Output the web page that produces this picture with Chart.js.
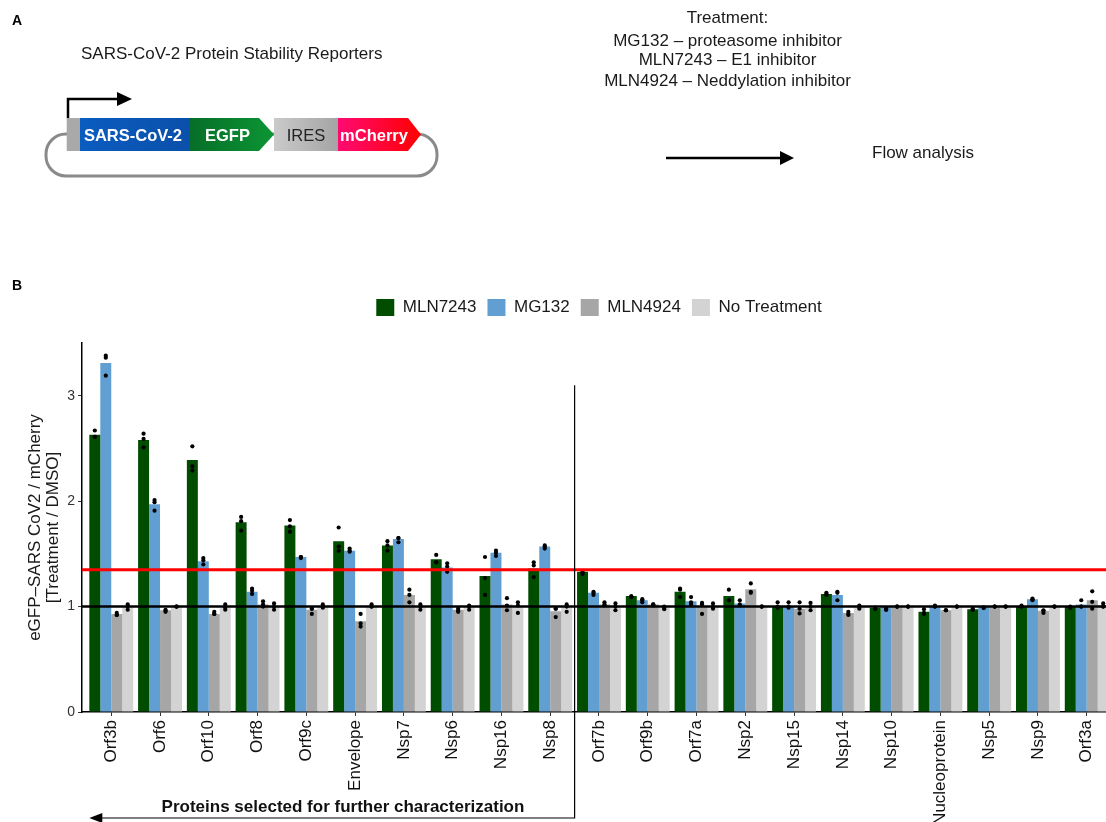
<!DOCTYPE html>
<html>
<head>
<meta charset="utf-8">
<script src="https://cdn.jsdelivr.net/npm/chart.js@4.4.1/dist/chart.umd.min.js"></script>
<style>
  body { margin: 0; width: 1106px; height: 822px; overflow: hidden; background: #fff; position: relative;
         font-family: "Liberation Sans", Arial, Helvetica, sans-serif; }
  #chart { position: absolute; left: 0; top: 0; }
  svg { position: absolute; left: 0; top: 0; pointer-events: none; }
  .caption { position: absolute; left: 343px; top: 797px; transform: translateX(-50%);
             font-size: 17px; font-weight: bold; line-height: 20px; color: #111; white-space: nowrap; }
</style>
</head>
<body>
<canvas id="chart" width="1120" height="822"></canvas>

<svg width="1106" height="300" font-family="Liberation Sans, Arial, Helvetica, sans-serif">
  <defs>
    <linearGradient id="gBlue" x1="0" x2="1"><stop offset="0" stop-color="#0a5cc0"/><stop offset="1" stop-color="#0b50aa"/></linearGradient>
    <linearGradient id="gGreen" x1="0" x2="1"><stop offset="0" stop-color="#066e28"/><stop offset="1" stop-color="#0c9534"/></linearGradient>
    <linearGradient id="gGrey" x1="0" x2="1"><stop offset="0" stop-color="#cacaca"/><stop offset="1" stop-color="#a4a4a4"/></linearGradient>
    <linearGradient id="gCherry" x1="0" x2="1"><stop offset="0" stop-color="#ff0a72"/><stop offset="1" stop-color="#ff0000"/></linearGradient>
  </defs>
  <text x="12" y="25" font-size="14" font-weight="bold" fill="#000">A</text>
  <text x="81" y="59" font-size="17" fill="#1a1a1a">SARS-CoV-2 Protein Stability Reporters</text>
  <rect x="46" y="134" width="391" height="42" rx="20" fill="none" stroke="#8a8a8a" stroke-width="3"/>
  <path d="M68 118 V99 H119" stroke="#000" stroke-width="2.5" fill="none"/>
  <polygon points="117,92 132,99 117,106" fill="#000"/>
  <rect x="66.7" y="118" width="13.3" height="33" fill="#a9a9a9"/>
  <rect x="80" y="118" width="109" height="33" fill="url(#gBlue)"/>
  <polygon points="189,118 259,118 274,134.5 259,151 189,151" fill="url(#gGreen)"/>
  <rect x="274" y="118" width="64" height="33" fill="url(#gGrey)"/>
  <polygon points="338,118 408,118 421,134.5 408,151 338,151" fill="url(#gCherry)"/>
  <text x="133" y="140.5" font-size="16.5" font-weight="bold" fill="#fff" text-anchor="middle">SARS-CoV-2</text>
  <text x="227.5" y="140.5" font-size="16.5" font-weight="bold" fill="#fff" text-anchor="middle">EGFP</text>
  <text x="306" y="140.5" font-size="16.5" fill="#222" text-anchor="middle">IRES</text>
  <text x="374" y="140.5" font-size="16.5" font-weight="bold" fill="#fff" text-anchor="middle">mCherry</text>

  <g font-size="17" fill="#1a1a1a" text-anchor="middle">
    <text x="727.5" y="23.3">Treatment:</text>
    <text x="727.5" y="45.7">MG132 – proteasome inhibitor</text>
    <text x="727.5" y="65">MLN7243 – E1 inhibitor</text>
    <text x="727.5" y="86">MLN4924 – Neddylation inhibitor</text>
  </g>
  <line x1="666" y1="158" x2="782" y2="158" stroke="#000" stroke-width="2.7"/>
  <polygon points="780,151 794,158 780,165" fill="#000"/>
  <text x="872" y="158.3" font-size="17" fill="#1a1a1a">Flow analysis</text>

  <text x="12" y="290" font-size="14" font-weight="bold" fill="#000">B</text>
</svg>
<div class="caption">Proteins selected for further characterization</div>

<script>
// categories (x axis, left to right)
const proteins = ['Orf3b', 'Orf6', 'Orf10', 'Orf8', 'Orf9c', 'Envelope', 'Nsp7', 'Nsp6', 'Nsp16', 'Nsp8',
  'Orf7b', 'Orf9b', 'Orf7a', 'Nsp2', 'Nsp15', 'Nsp14', 'Nsp10', 'Nucleoprotein', 'Nsp5', 'Nsp9', 'Orf3a'];

const treatments = ['MLN7243', 'MG132', 'MLN4924', 'No Treatment'];
const colours = ['#004d00', '#619fd3', '#a6a6a6', '#d3d3d3'];

// bar heights (mean ratio treatment / DMSO)
const mln7243 = [2.63, 2.58, 2.39, 1.80, 1.77, 1.62, 1.58, 1.45, 1.29, 1.36, 1.33, 1.10, 1.14, 1.10, 1.00, 1.12, 0.99, 0.95, 0.975, 1.00, 1.00];
const mg132 = [3.31, 1.97, 1.43, 1.14, 1.47, 1.53, 1.64, 1.37, 1.51, 1.57, 1.13, 1.06, 1.05, 1.03, 1.00, 1.11, 1.00, 1.00, 1.00, 1.07, 1.02];
const mln4924 = [0.93, 0.965, 0.93, 1.02, 0.97, 0.86, 1.11, 0.97, 1.02, 0.955, 1.02, 1.02, 1.00, 1.165, 0.98, 0.94, 1.00, 0.965, 1.00, 0.96, 1.06];
const noTreatment = [1.00, 1.00, 0.99, 1.00, 1.00, 1.00, 1.00, 1.00, 1.00, 1.00, 1.00, 0.99, 1.00, 1.00, 1.00, 1.00, 1.00, 1.00, 1.00, 1.00, 1.01];

// replicate dots
const mln7243Reps = [[2.67, 2.61, 2.61], [2.64, 2.59, 2.51], [2.52, 2.33, 2.29], [1.85, 1.81, 1.72], [1.82, 1.76, 1.71],
  [1.75, 1.57, 1.53], [1.62, 1.58, 1.53], [1.49, 1.42, 1.42], [1.47, 1.27, 1.11], [1.42, 1.39, 1.28],
  [1.33, 1.32, 1.31], [1.10, 1.09, 1.09], [1.17, 1.16, 1.09], [1.16, 1.06, 1.06], [1.04, 1.00, 0.99],
  [1.13, 1.12, 1.11], [0.99, 0.98, 0.98], [0.975, 0.94, 0.93], [0.98, 0.97, 0.97], [1.01, 1.00, 1.00], [1.00, 0.99, 0.99]];
const mg132Reps = [[3.38, 3.36, 3.19], [2.01, 1.99, 1.91], [1.46, 1.44, 1.40], [1.17, 1.15, 1.12], [1.47, 1.47, 1.46],
  [1.55, 1.53, 1.52], [1.65, 1.65, 1.61], [1.41, 1.38, 1.33], [1.53, 1.51, 1.48], [1.58, 1.57, 1.55],
  [1.14, 1.13, 1.11], [1.07, 1.06, 1.04], [1.09, 1.04, 1.02], [1.06, 1.02, 1.01], [1.04, 1.00, 0.99],
  [1.14, 1.13, 1.06], [0.98, 0.97, 0.97], [1.01, 1.00, 1.00], [0.99, 0.99, 0.99], [1.075, 1.07, 1.06], [1.06, 1.00, 1.00]];
const mln4924Reps = [[0.94, 0.92, 0.92], [0.97, 0.96, 0.95], [0.95, 0.93, 0.93], [1.05, 1.02, 1.00], [0.98, 0.98, 0.93],
  [0.93, 0.84, 0.81], [1.16, 1.11, 1.04], [0.98, 0.96, 0.95], [1.08, 1.01, 0.965], [0.98, 0.98, 0.90],
  [1.04, 1.02, 1.01], [1.02, 1.02, 1.01], [1.035, 1.02, 0.93], [1.22, 1.14, 1.13], [1.04, 0.98, 0.935],
  [0.95, 0.93, 0.92], [1.00, 1.00, 1.00], [0.965, 0.965, 0.965], [1.00, 1.00, 1.00], [0.965, 0.96, 0.94], [1.145, 1.045, 0.98]];
const noTreatmentReps = [[1.02, 1.00, 0.97], [1.00, 1.00, 1.00], [1.02, 0.99, 0.97], [1.03, 1.00, 0.97], [1.02, 1.00, 0.99],
  [1.02, 1.00, 1.00], [1.02, 1.00, 0.97], [1.01, 1.00, 0.97], [1.04, 1.01, 0.94], [1.02, 1.00, 0.95],
  [1.03, 1.00, 0.965], [1.00, 0.99, 0.975], [1.03, 1.00, 0.98], [1.00, 1.00, 1.00], [1.035, 1.00, 0.965],
  [1.01, 1.00, 0.98], [1.00, 1.00, 1.00], [1.00, 1.00, 1.00], [1.00, 1.00, 1.00], [1.00, 1.00, 1.00], [1.03, 1.00, 1.00]];

const yTicks = [0, 1, 2, 3];
const threshold = 1.35;   // red line
const baseline = 1;       // black line
const nSelected = 10;     // proteins left of the bracket

const means = [mln7243, mg132, mln4924, noTreatment];
const reps = [mln7243Reps, mg132Reps, mln4924Reps, noTreatmentReps];
const catPct = 0.9;
const dodge = catPct / treatments.length;

const barSets = treatments.map((t, k) => ({
  type: 'bar',
  label: t,
  data: means[k].map((v, i) => ({ x: i + 1, y: v })),
  backgroundColor: colours[k],
  categoryPercentage: catPct,
  barPercentage: 1,
  order: 1
}));

const dotSets = treatments.map((t, k) => ({
  type: 'scatter',
  label: t + ' replicates',
  data: reps[k].flatMap((arr, i) => arr.map(v => ({ x: i + 1 + (k - 1.5) * dodge, y: v }))),
  pointRadius: 2.1,
  pointBackgroundColor: '#000',
  pointBorderWidth: 0,
  order: 0
}));

const refLines = {
  id: 'refLines',
  afterDatasetsDraw(chart) {
    const { ctx, chartArea: a, scales: { x, y } } = chart;
    ctx.save();
    [[threshold, '#ff0000', 3], [baseline, '#000', 2.5]].forEach(([v, c, w]) => {
      const py = y.getPixelForValue(v);
      ctx.strokeStyle = c;
      ctx.lineWidth = w;
      ctx.beginPath();
      ctx.moveTo(a.left, py);
      ctx.lineTo(a.right, py);
      ctx.stroke();
    });
    // bracket marking the selected proteins
    const bx = x.getPixelForValue(nSelected + 0.5);
    const by = 818;
    const tip = x.getPixelForValue(0.55);
    ctx.strokeStyle = '#000';
    ctx.lineWidth = 1.2;
    ctx.beginPath();
    ctx.moveTo(bx, y.getPixelForValue(3.1));
    ctx.lineTo(bx, by);
    ctx.lineTo(tip + 10, by);
    ctx.stroke();
    ctx.fillStyle = '#000';
    ctx.beginPath();
    ctx.moveTo(tip, by);
    ctx.lineTo(tip + 13, by - 5);
    ctx.lineTo(tip + 13, by + 5);
    ctx.closePath();
    ctx.fill();
    ctx.restore();
  }
};

Chart.defaults.font.family = "'Liberation Sans', Arial, Helvetica, sans-serif";

new Chart(document.getElementById('chart'), {
  type: 'bar',
  data: { datasets: [...barSets, ...dotSets] },
  options: {
    responsive: false,
    animation: false,
    events: [],
    layout: { padding: { left: 0, right: 3, top: 288, bottom: 0 } },
    plugins: {
      tooltip: { enabled: false },
      legend: {
        position: 'top',
        fullSize: false,
        labels: {
          boxWidth: 18, boxHeight: 17, padding: 11,
          font: { size: 17 }, color: '#1a1a1a',
          filter: item => item.datasetIndex < treatments.length
        }
      },
      // empty spacer between legend and panel
      title: { display: true, text: ' ', weight: 500, padding: 0, font: { size: 17, lineHeight: 1 } }
    },
    scales: {
      x: {
        type: 'linear',
        min: 0.4,
        max: proteins.length + 0.6,
        offset: false,
        afterBuildTicks: s => { s.ticks = proteins.map((p, i) => ({ value: i + 1 })); },
        afterFit: s => { s.height = 110; },
        ticks: {
          autoSkip: false, minRotation: 90, maxRotation: 90, padding: 4,
          font: { size: 17 }, color: '#111',
          callback: (v, i) => proteins[i]
        },
        grid: { drawOnChartArea: false, offset: false, tickLength: 4, color: '#333' },
        border: { color: '#000', width: 1.5 }
      },
      y: {
        min: 0,
        max: 3.5,
        afterBuildTicks: s => { s.ticks = yTicks.map(v => ({ value: v })); },
        afterFit: s => { s.width = 82; },
        ticks: { font: { size: 14 }, color: '#333', padding: 3 },
        grid: { drawOnChartArea: false, tickLength: 4, color: '#333' },
        border: { color: '#000', width: 1.5 },
        title: {
          display: true,
          text: ['eGFP–SARS CoV2 / mCherry', '[Treatment / DMSO]'],
          font: { size: 17, lineHeight: 1.07 },
          color: '#1a1a1a',
          padding: { top: 26, bottom: 0 }
        }
      }
    }
  },
  plugins: [refLines]
});
</script>
</body>
</html>
